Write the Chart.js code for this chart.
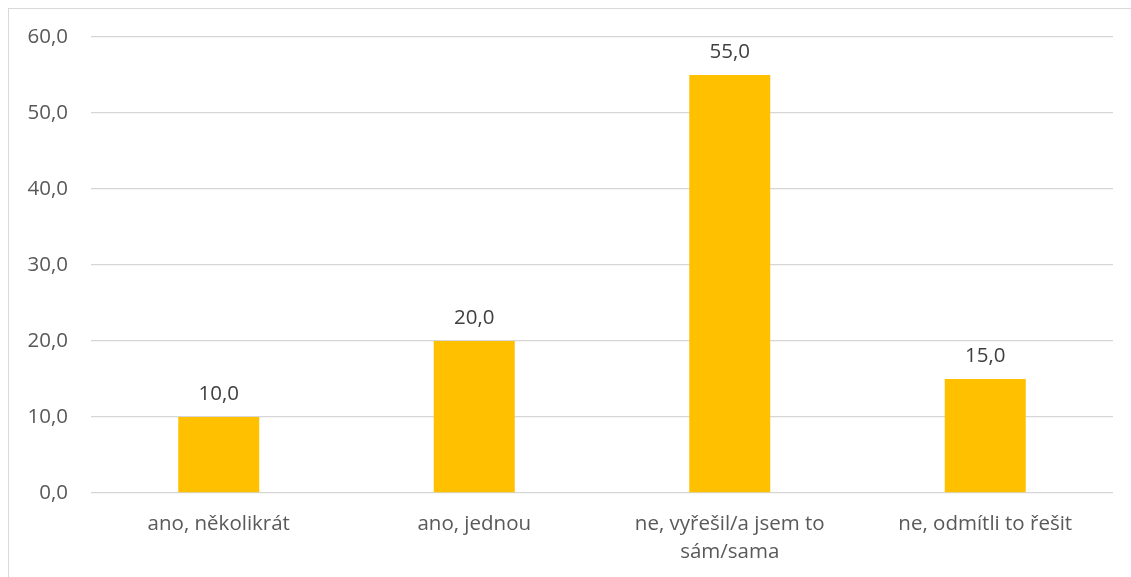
<!DOCTYPE html>
<html>
<head>
<meta charset="utf-8">
<script src="https://cdn.jsdelivr.net/npm/chart.js@4.4.1/dist/chart.umd.min.js"></script>
<style>
  html, body { margin: 0; padding: 0; background: #fff; }
  #frame {
    position: absolute; left: 8px; top: 8px; width: 1140px; height: 600px;
    border: 1px solid #d9d9d9; box-sizing: border-box;
  }
  #wrap { position: absolute; left: 0; top: 0; width: 1131px; height: 577px; }
</style>
</head>
<body>
<div id="frame"></div>
<div id="wrap"><canvas id="chart" width="1131" height="577"></canvas></div>
<script>
const categories = [
  "ano, několikrát",
  "ano, jednou",
  ["ne, vyřešil/a jsem to", "sám/sama"],
  "ne, odmítli to řešit",
];
const values = [10.0, 20.0, 55.0, 15.0];
const yTicks = [0, 10, 20, 30, 40, 50, 60];

const fmt = (v) => v.toFixed(1).replace(".", ",");
const FONT = "'Open Sans', 'DejaVu Sans', sans-serif";

const valueLabels = {
  id: "valueLabels",
  afterDatasetsDraw(chart) {
    const ctx = chart.ctx;
    const meta = chart.getDatasetMeta(0);
    ctx.save();
    ctx.font = "20.5px " + FONT;
    ctx.fillStyle = "#404040";
    ctx.textAlign = "center";
    ctx.textBaseline = "bottom";
    meta.data.forEach((bar, i) => {
      ctx.fillText(fmt(values[i]), bar.x, bar.y - 13);
    });
    ctx.restore();
  },
};

new Chart(document.getElementById("chart"), {
  type: "bar",
  data: {
    labels: categories,
    datasets: [
      {
        data: values,
        backgroundColor: "#ffc000",
        categoryPercentage: 1,
        barPercentage: 0.317,
      },
    ],
  },
  options: {
    responsive: false,
    animation: false,
    layout: { padding: { left: 0, right: 18, top: 37, bottom: 0 } },
    plugins: {
      legend: { display: false },
      tooltip: { enabled: false },
    },
    scales: {
      x: {
        grid: { display: false, drawTicks: false },
        border: { display: false },
        ticks: {
          color: "#595959",
          font: { family: FONT, size: 20.5, lineHeight: 1.36 },
          padding: 17,
          maxRotation: 0,
          autoSkip: false,
        },
        afterFit(scale) { scale.height = 84; },
      },
      y: {
        min: 0,
        max: 60,
        afterBuildTicks(scale) {
          scale.ticks = yTicks.map((v) => ({ value: v }));
        },
        grid: { color: "#d6d6d6", lineWidth: 1.3, drawTicks: false },
        border: { display: false },
        ticks: {
          color: "#595959",
          font: { family: FONT, size: 20.5 },
          padding: 23,
          callback: (v) => fmt(v),
        },
        afterFit(scale) { scale.width = 91; },
      },
    },
  },
  plugins: [valueLabels],
});
</script>
</body>
</html>
